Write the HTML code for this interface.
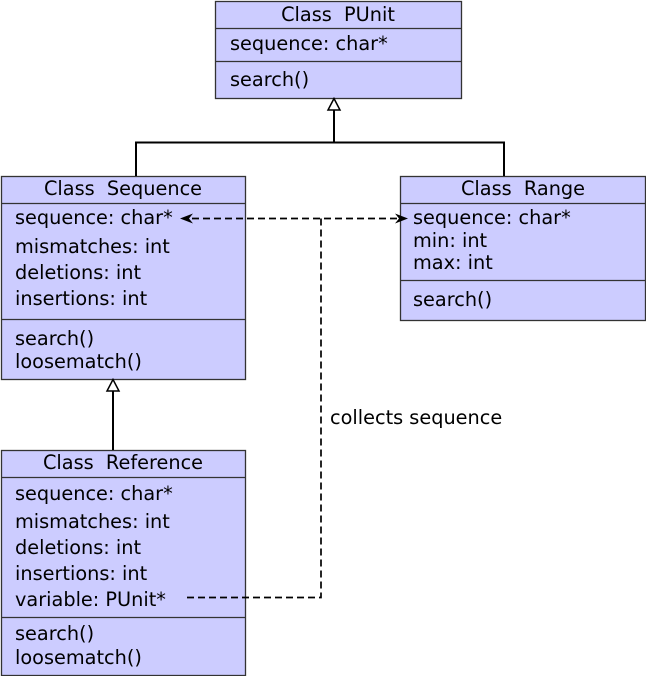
<!DOCTYPE html>
<html><head><meta charset="utf-8"><style>
html,body{margin:0;padding:0;background:#fff;}
svg{display:block;}
text{font-family:"DejaVu Sans","Liberation Sans",sans-serif;font-size:19.3px;fill:#000;white-space:pre;}
</style></head><body>
<svg width="646" height="676" viewBox="0 0 646 676" xmlns="http://www.w3.org/2000/svg" xml:space="preserve">
<g fill="#ccccff" stroke="#333" stroke-width="1.3">
<rect x="215.5" y="1.5" width="246" height="97"/>
<line x1="215.5" y1="28.5" x2="461.5" y2="28.5"/>
<line x1="215.5" y1="61.5" x2="461.5" y2="61.5"/>
<rect x="1.5" y="176.5" width="244" height="203"/>
<line x1="1.5" y1="203.5" x2="245.5" y2="203.5"/>
<line x1="1.5" y1="319.5" x2="245.5" y2="319.5"/>
<rect x="400.5" y="176.5" width="245" height="144"/>
<line x1="400.5" y1="203.5" x2="645.5" y2="203.5"/>
<line x1="400.5" y1="280.5" x2="645.5" y2="280.5"/>
<rect x="1.5" y="450.5" width="244" height="225"/>
<line x1="1.5" y1="477.5" x2="245.5" y2="477.5"/>
<line x1="1.5" y1="617.5" x2="245.5" y2="617.5"/>
</g>
<g stroke="#000" stroke-width="2" fill="none">
<polyline points="136,176 136,142.5 504,142.5 504,176"/>
<line x1="334" y1="142" x2="334" y2="110"/>
<line x1="113" y1="450" x2="113" y2="390"/>
</g>
<g stroke="#000" stroke-width="1.5" fill="#fff">
<polygon points="334,98.5 328,110 340,110"/>
<polygon points="113,379.5 107,391 119,391"/>
</g>
<g stroke="#000" stroke-width="1.7" fill="none" stroke-dasharray="7,4">
<line x1="192" y1="218.5" x2="398" y2="218.5"/>
<polyline points="321,218.5 321,597.5 183,597.5"/>
</g>
<polygon points="180,218.5 193,213.5 189,218.5 193,223.5" fill="#000"/>
<polygon points="408,218.5 395,213.5 399,218.5 395,223.5" fill="#000"/>
<text x="338" y="21" text-anchor="middle">Class  PUnit</text>
<text x="230" y="50">sequence: char*</text>
<text x="230" y="86">search()</text>
<text x="123" y="195" text-anchor="middle">Class  Sequence</text>
<text x="15" y="224">sequence: char*</text>
<text x="15" y="253">mismatches: int</text>
<text x="15" y="279">deletions: int</text>
<text x="15" y="305">insertions: int</text>
<text x="15" y="345">search()</text>
<text x="15" y="368">loosematch()</text>
<text x="523" y="195" text-anchor="middle">Class  Range</text>
<text x="413" y="224">sequence: char*</text>
<text x="413" y="247">min: int</text>
<text x="413" y="269">max: int</text>
<text x="413" y="306">search()</text>
<text x="123" y="469" text-anchor="middle">Class  Reference</text>
<text x="15" y="500">sequence: char*</text>
<text x="15" y="528">mismatches: int</text>
<text x="15" y="554">deletions: int</text>
<text x="15" y="580">insertions: int</text>
<text x="15" y="606">variable: PUnit*</text>
<text x="15" y="640">search()</text>
<text x="15" y="664">loosematch()</text>
<text x="330" y="424">collects sequence</text>
</svg>
</body></html>
